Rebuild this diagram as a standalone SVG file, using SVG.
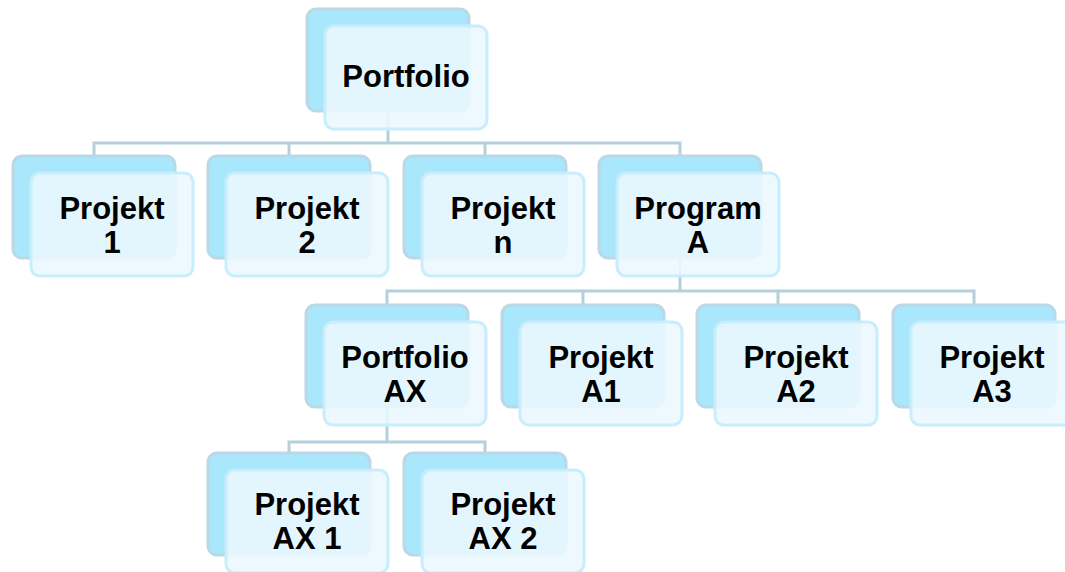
<svg xmlns="http://www.w3.org/2000/svg" width="1065" height="572" viewBox="0 0 1065 572">
<style>
.b{fill:#a9e7fc;stroke:#bad8e5;stroke-width:3}
.f{fill:#eaf8fe;fill-opacity:0.88;stroke:#c8edfc;stroke-width:3}
.c{fill:none;stroke:#b5d0dc;stroke-width:3}
text{font-family:"Liberation Sans",Arial,sans-serif;font-weight:bold;font-size:31px;fill:#000;text-anchor:middle}
</style>
<rect width="1065" height="572" fill="#fff"/>
<g id="connectors">
<path class="c" d="M388 112V143M94 156V143H680V156M289 143V156M485 143V156"/>
<path class="c" d="M680 259V291M387 305V291H974V305M583 291V305M778 291V305"/>
<path class="c" d="M387 408V442M289 453V442H485V453"/>
</g>
<g id="portfolio"><rect class="b" x="307" y="9" width="162" height="102" rx="9"/><rect class="f" x="325" y="26" width="162" height="103" rx="9"/><text x="406" y="87">Portfolio</text></g>
<g id="projekt1"><rect class="b" x="13" y="156" width="162" height="102" rx="9"/><rect class="f" x="31" y="173" width="162" height="103" rx="9"/><text x="112" y="219">Projekt</text><text x="112" y="253">1</text></g>
<g id="projekt2"><rect class="b" x="208" y="156" width="162" height="102" rx="9"/><rect class="f" x="226" y="173" width="162" height="103" rx="9"/><text x="307" y="219">Projekt</text><text x="307" y="253">2</text></g>
<g id="projektn"><rect class="b" x="404" y="156" width="162" height="102" rx="9"/><rect class="f" x="422" y="173" width="162" height="103" rx="9"/><text x="503" y="219">Projekt</text><text x="503" y="253">n</text></g>
<g id="programA"><rect class="b" x="599" y="156" width="162" height="102" rx="9"/><rect class="f" x="617" y="173" width="162" height="103" rx="9"/><text x="698" y="219">Program</text><text x="698" y="253">A</text></g>
<g id="portfolioAX"><rect class="b" x="306" y="305" width="162" height="102" rx="9"/><rect class="f" x="324" y="322" width="162" height="103" rx="9"/><text x="405" y="368">Portfolio</text><text x="405" y="402">AX</text></g>
<g id="projektA1"><rect class="b" x="502" y="305" width="162" height="102" rx="9"/><rect class="f" x="520" y="322" width="162" height="103" rx="9"/><text x="601" y="368">Projekt</text><text x="601" y="402">A1</text></g>
<g id="projektA2"><rect class="b" x="697" y="305" width="162" height="102" rx="9"/><rect class="f" x="715" y="322" width="162" height="103" rx="9"/><text x="796" y="368">Projekt</text><text x="796" y="402">A2</text></g>
<g id="projektA3"><rect class="b" x="893" y="305" width="162" height="102" rx="9"/><rect class="f" x="911" y="322" width="162" height="103" rx="9"/><text x="992" y="368">Projekt</text><text x="992" y="402">A3</text></g>
<g id="projektAX1"><rect class="b" x="208" y="453" width="162" height="102" rx="9"/><rect class="f" x="226" y="470" width="162" height="103" rx="9"/><text x="307" y="515">Projekt</text><text x="307" y="549">AX 1</text></g>
<g id="projektAX2"><rect class="b" x="404" y="453" width="162" height="102" rx="9"/><rect class="f" x="422" y="470" width="162" height="103" rx="9"/><text x="503" y="515">Projekt</text><text x="503" y="549">AX 2</text></g>
</svg>
